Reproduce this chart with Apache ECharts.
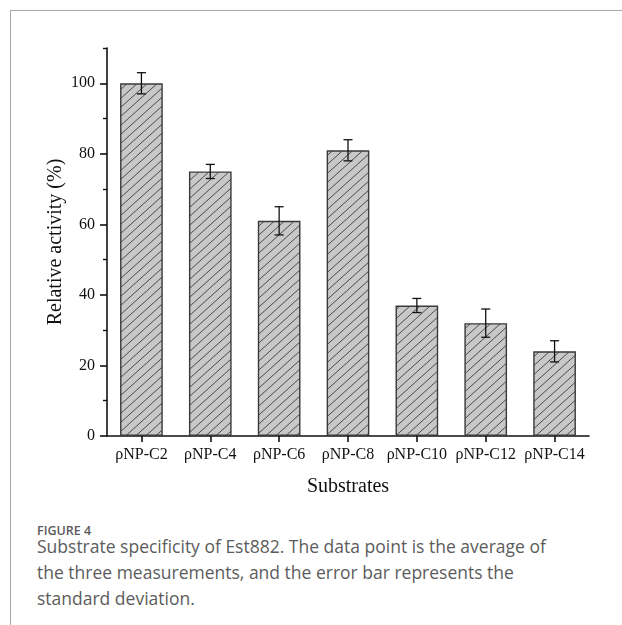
<!DOCTYPE html>
<html>
<head>
<meta charset="utf-8">
<script src="https://cdn.jsdelivr.net/npm/echarts@6/dist/echarts.min.js"></script>
<style>
  html, body { margin: 0; padding: 0; background: #fff; }
  #wrap { position: relative; width: 622px; height: 625px; overflow: hidden; background: #fff; }
  #frame { position: absolute; left: 10px; top: 10px; width: 620px; height: 620px; border-top: 1px solid #a8a8a8; border-left: 1px solid #a8a8a8; }
  #chart { position: absolute; left: 0; top: 0; width: 622px; height: 520px; }
  #figlabel { position: absolute; left: 37px; top: 523px; font-family: "Open Sans", sans-serif; font-weight: 600; font-size: 12.5px; line-height: 16px; color: #5a5a5a; white-space: nowrap; }
  #caption { position: absolute; left: 37px; top: 533px; font-family: "Open Sans", sans-serif; font-size: 17.5px; line-height: 26px; color: #5c5c5c; white-space: nowrap; }
</style>
</head>
<body>
<div id="wrap">
  <div id="frame"></div>
  <div id="chart"></div>
  <div id="figlabel">FIGURE 4</div>
  <div id="caption">Substrate specificity of Est882. The data point is the average of<br>the three measurements, and the error bar represents the<br>standard deviation.</div>
</div>
<script>
const categories = ["ρNP-C2", "ρNP-C4", "ρNP-C6", "ρNP-C8", "ρNP-C10", "ρNP-C12", "ρNP-C14"];
const activity = [100, 75, 61, 81, 37, 32, 24];
const errors = [3, 2, 4, 3, 2, 4, 3];
const yMajorTicks = [0, 20, 40, 60, 80, 100];
const yMinorTicks = [10, 30, 50, 70, 90, 110];

function hatchPattern() {
  const w = 10, h = 9;
  const c = document.createElement('canvas');
  c.width = w; c.height = h;
  const g = c.getContext('2d');
  g.fillStyle = '#c8c8c8';
  g.fillRect(0, 0, w, h);
  g.strokeStyle = '#3c3c3c';
  g.lineWidth = 0.9;
  g.beginPath();
  const k = h / w;
  for (let off = -w; off <= w; off += w) {
    g.moveTo(off - 2, h + 2 * k);
    g.lineTo(off + w + 2, -2 * k);
  }
  g.stroke();
  return c;
}

const errData = activity.map((v, i) => [i, v - errors[i], v + errors[i]]);
const serif = '"Liberation Serif", "Times New Roman", serif';

const chart = echarts.init(document.getElementById('chart'), null, { renderer: 'canvas' });
chart.setOption({
  animation: false,
  backgroundColor: 'transparent',
  grid: { left: 107, right: 33, top: 48, bottom: 84, containLabel: false },
  xAxis: {
    type: 'category',
    data: categories,
    boundaryGap: true,
    name: 'Substrates',
    nameLocation: 'middle',
    nameGap: 41,
    nameMoveOverlap: false,
    nameTextStyle: { fontFamily: serif, fontSize: 20, color: '#111' },
    axisLine: { lineStyle: { color: '#111', width: 1.6 } },
    axisTick: { show: true, alignWithLabel: true, length: 6, inside: false, lineStyle: { color: '#111', width: 1.6 } },
    axisLabel: { fontFamily: serif, fontSize: 16, color: '#111', margin: 11, interval: 0 },
    splitLine: { show: false }
  },
  yAxis: [
    {
      type: 'value',
      min: 0, max: 110,
      name: 'Relative activity (%)',
      nameLocation: 'middle',
      nameGap: 41,
      nameMoveOverlap: false,
      nameRotate: 90,
      nameTextStyle: { fontFamily: serif, fontSize: 20, color: '#111' },
      axisLine: { show: true, lineStyle: { color: '#111', width: 1.6 } },
      axisTick: { show: true, length: 7, customValues: yMajorTicks, lineStyle: { color: '#111', width: 1.6 } },
      axisLabel: { fontFamily: serif, fontSize: 16, color: '#111', margin: 12, customValues: yMajorTicks },
      splitLine: { show: false }
    },
    {
      type: 'value',
      min: 0, max: 110,
      position: 'left',
      axisLine: { show: false },
      axisTick: { show: true, length: 4, customValues: yMinorTicks, lineStyle: { color: '#111', width: 1.4 } },
      axisLabel: { show: false },
      splitLine: { show: false }
    }
  ],
  series: [
    {
      type: 'bar',
      data: activity,
      barWidth: '62%',
      itemStyle: {
        color: { image: hatchPattern(), repeat: 'repeat' },
        borderColor: '#3a3a3a',
        borderWidth: 1.4
      },
      z: 2
    },
    {
      type: 'custom',
      data: errData,
      z: 5,
      renderItem: function (params, api) {
        const x = api.value(0);
        const lo = api.coord([x, api.value(1)]);
        const hi = api.coord([x, api.value(2)]);
        const hw = 4.5;
        const st = { stroke: '#111', lineWidth: 1.3 };
        return {
          type: 'group',
          children: [
            { type: 'line', shape: { x1: hi[0], y1: hi[1], x2: lo[0], y2: lo[1] }, style: st },
            { type: 'line', shape: { x1: hi[0] - hw, y1: hi[1], x2: hi[0] + hw, y2: hi[1] }, style: st },
            { type: 'line', shape: { x1: lo[0] - hw, y1: lo[1], x2: lo[0] + hw, y2: lo[1] }, style: st }
          ]
        };
      }
    }
  ]
});
</script>
</body>
</html>
